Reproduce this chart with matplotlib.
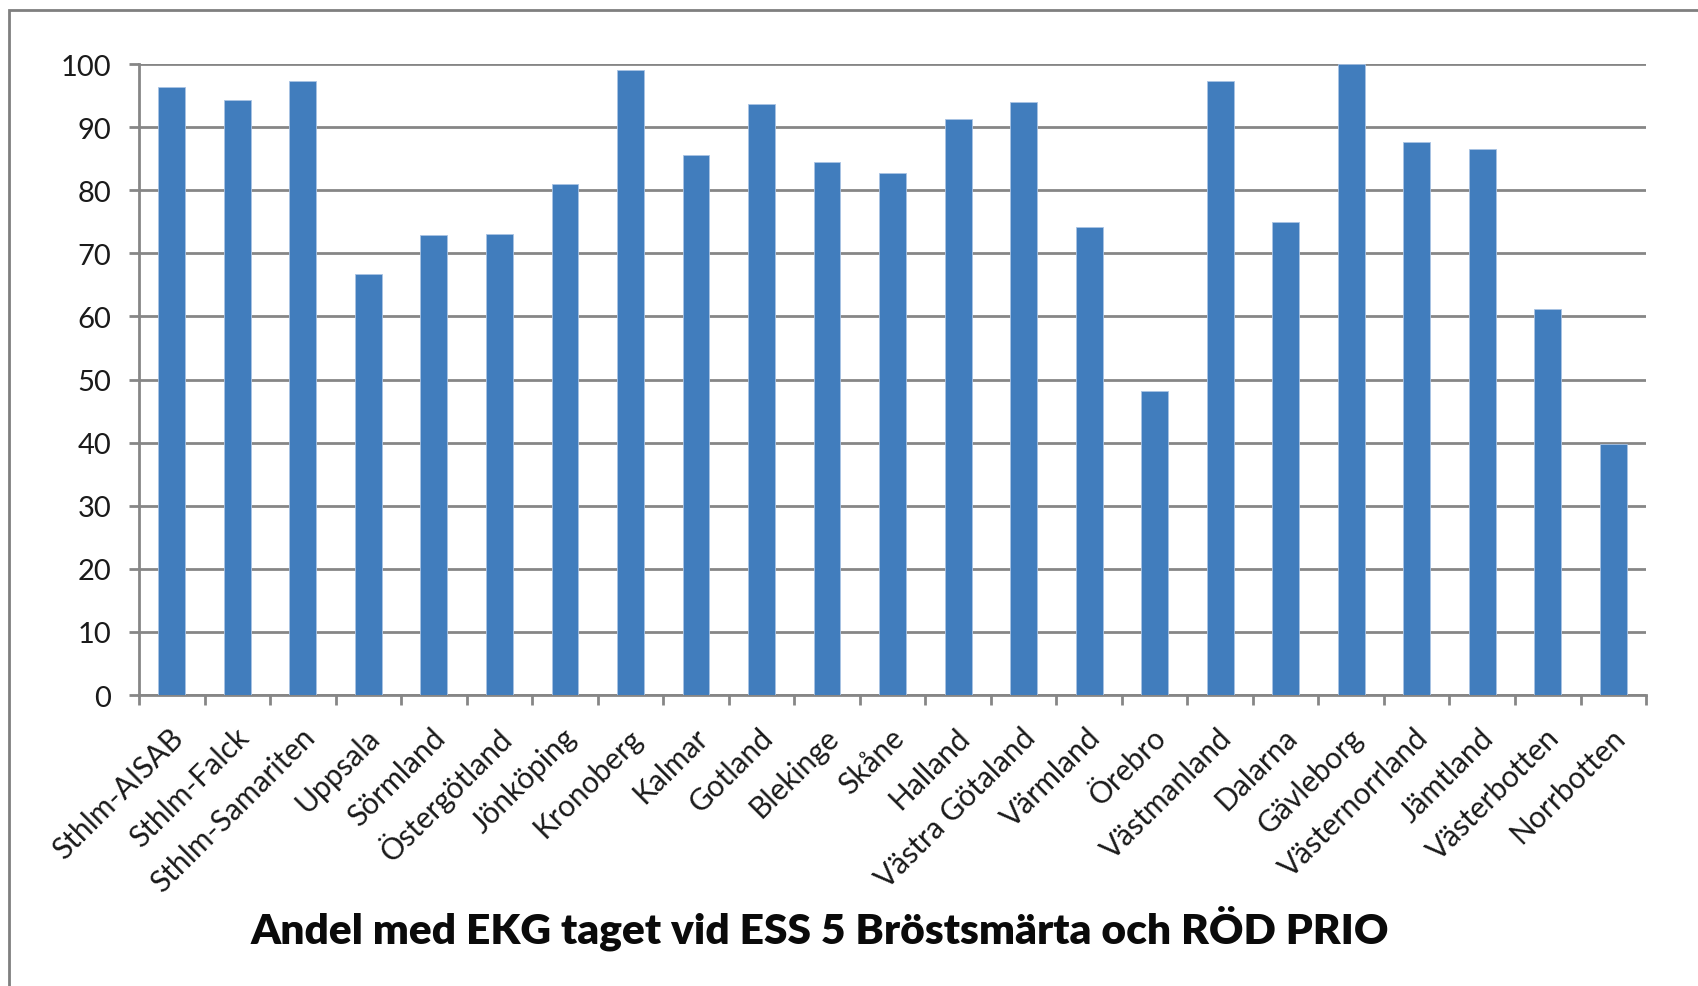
import matplotlib.pyplot as plt
import matplotlib.transforms as mtransforms
from matplotlib.patches import Rectangle
import numpy as np

plt.rcParams['font.family'] = ['Lato', 'DejaVu Sans']

regions = [
    "Sthlm-AISAB", "Sthlm-Falck", "Sthlm-Samariten", "Uppsala", "Sörmland",
    "Östergötland", "Jönköping", "Kronoberg", "Kalmar", "Gotland", "Blekinge",
    "Skåne", "Halland", "Västra Götaland", "Värmland", "Örebro", "Västmanland",
    "Dalarna", "Gävleborg", "Västernorrland", "Jämtland", "Västerbotten", "Norrbotten",
]
andel_ekg = [
    96.4, 94.3, 97.3, 66.7, 72.9,
    73.1, 81.0, 99.1, 85.6, 93.7, 84.4,
    82.8, 91.3, 94.0, 74.1, 48.2, 97.3,
    75.0, 100.0, 87.7, 86.6, 61.2, 39.8,
]
title = "Andel med EKG taget vid ESS 5 Bröstsmärta och RÖD PRIO"

bar_color = "#417DBD"
grid_color = "#868686"

fig = plt.figure(figsize=(16.98, 9.87), dpi=100)
ax = fig.add_axes([0.0819, 0.2948, 0.8875, 0.6393])

x = np.arange(len(regions))
ax.bar(x, andel_ekg, width=0.41, color=bar_color, edgecolor="#a9c3e4", linewidth=0.6, zorder=3)

# Axis limits and y ticks
ax.set_xlim(-0.5, len(regions) - 0.5)
ax.set_ylim(0, 100)
ax.set_yticks(np.arange(0, 101, 10))
ax.yaxis.grid(True, color=grid_color, linewidth=2.0, zorder=0)
ax.set_axisbelow(True)

# Spines
for side in ["top", "right"]:
    ax.spines[side].set_visible(False)
for side in ["left", "bottom"]:
    ax.spines[side].set_color(grid_color)
    ax.spines[side].set_linewidth(2.0)

ax.tick_params(axis="y", direction="out", length=7, width=2.0, color=grid_color,
               labelsize=21, labelcolor="#1a1a1a", pad=13)

# Category labels at centres, tick marks at boundaries
ax.set_xticks(x)
ax.set_xticklabels(regions, rotation=45, ha="right", va="center", rotation_mode="anchor",
                   fontsize=21.5, color="#1a1a1a")
ax.set_xticks(np.arange(-0.5, len(regions), 1), minor=True)
ax.tick_params(axis="x", which="major", length=0, pad=27)
ax.tick_params(axis="x", which="minor", direction="out", length=7, width=2.0, color=grid_color)

offset = mtransforms.ScaledTranslation(0.07, 0, fig.dpi_scale_trans)
for lbl in ax.get_xticklabels():
    lbl.set_transform(lbl.get_transform() + offset)

# Chart title below the axis labels
fig.text(0.483, 0.06, title, ha="center", va="center", fontsize=30.6, fontweight="heavy",
         color="#0a0a0a")

# Outer chart frame (cut off at the right and bottom)
fig.patches.append(Rectangle((9 / 1698, -0.05), 1.2, 1 - 11 / 987 + 0.05,
                             transform=fig.transFigure, fill=False,
                             edgecolor="#7f7f7f", linewidth=2.0))

fig.savefig("out.png", dpi=100)
plt.close(fig)
